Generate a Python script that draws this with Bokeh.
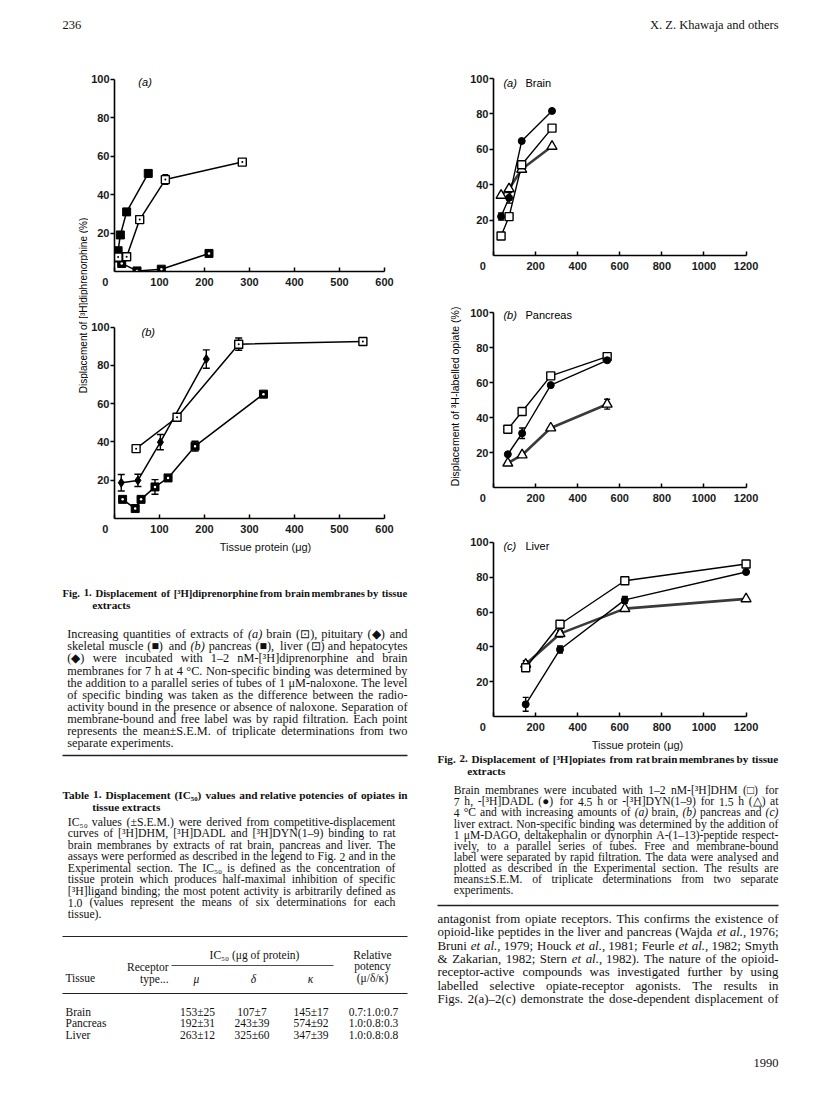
import math
from bokeh.plotting import figure
from bokeh.models import Range1d, Label, Whisker, ColumnDataSource, FixedTicker
from bokeh.layouts import column, row
from bokeh.embed import file_html
from bokeh.resources import INLINE
from bokeh.core.properties import value

SANS = "Liberation Sans"
SERIF = "Liberation Serif"

# ---------------- data ----------------
# Fig. 1(a): brain, pituitary, skeletal muscle
f1a_brain_x = [8, 27, 56, 113, 284]
f1a_brain_y = [7.5, 7.7, 27, 47.8, 56.9]
f1a_brain_err = [0, 0, 0, 2.5, 0]
f1a_pit_x = [8, 13, 27, 75]
f1a_pit_y = [10.8, 19, 31, 51]
f1a_musc_x = [8, 16, 50, 104, 210]
f1a_musc_y = [7.0, 4.2, 0.3, 1.2, 9.4]

# Fig. 1(b): liver, hepatocytes, pancreas
f1b_liver_x = [48, 139, 276, 552]
f1b_liver_y = [36.5, 52.9, 91.1, 92.5]
f1b_liver_err = [0, 0, 3.2, 0]
f1b_hep_x = [15, 52, 102, 204]
f1b_hep_y = [18.7, 19.9, 39.9, 83.3]
f1b_hep_err = [4.3, 3.2, 4.0, 4.8]
f1b_panc_x = [18, 46, 59, 90, 119, 179, 331]
f1b_panc_y = [10, 5.2, 10, 16.5, 21.2, 37.8, 65]
f1b_panc_err = [0, 0, 0, 3.8, 0, 2.6, 0]

# Fig. 2: DHM (square), DADL (circle), DYN(1-9) (triangle)
f2a_x = [36, 74, 134, 278]
f2a_dhm = [11, 22, 51.3, 72]
f2a_dadl = [22, 32.6, 64.7, 81.7]
f2a_dadl_err = [2, 3, 0, 0]
f2a_dyn = [34, 37.7, 48.7, 61.7]
f2a_dyn_err = [0, 0, 0, 0]

f2b_x = [68, 136, 272, 540]
f2b_dhm = [33.3, 43.4, 63.8, 74.8]
f2b_dadl = [19, 31, 58.5, 72.7]
f2b_dadl_err = [0, 3, 0, 0]
f2b_dyn = [13.9, 18.6, 34, 47.6]
f2b_dyn_err = [0, 0, 0, 2.8]

f2c_x = [153, 316, 624, 1200]
f2c_dhm = [28, 53, 78, 87.6]
f2c_dadl = [7, 38.5, 67, 83]
f2c_dadl_err = [4, 2, 2, 0]
f2c_dyn = [30, 47.6, 62, 67.6]
f2c_dyn_err = [2, 2, 0, 0]

y_ticks = [20, 40, 60, 80, 100]
x_ticks_f1 = [0, 100, 200, 300, 400, 500, 600]
x_ticks_f2 = [0, 200, 400, 600, 800, 1000, 1200]

# ---------------- texts ----------------
header_left = "236"
header_right = "X. Z. Khawaja and others"
f1_ylabel = "Displacement of [³H]diphrenorphine (%)"
f2_ylabel = "Displacement of ³H-labelled opiate (%)"
x_label = "Tissue protein (μg)"
f1_title = ["Fig. 1. Displacement of [³H]diprenorphine from brain membranes by tissue", "extracts"]
f1_cap = [
    "Increasing quantities of extracts of ~(a) brain (⊡), pituitary (◆) and",
    "skeletal muscle (■) and ~(b) pancreas (■), liver (⊡) and hepatocytes",
    "(◆) were incubated with 1–2 nM-[³H]diprenorphine and brain",
    "membranes for 7 h at 4 °C. Non-specific binding was determined by",
    "the addition to a parallel series of tubes of 1 μM-naloxone. The level",
    "of specific binding was taken as the difference between the radio-",
    "activity bound in the presence or absence of naloxone. Separation of",
    "membrane-bound and free label was by rapid filtration. Each point",
    "represents the mean±S.E.M. of triplicate determinations from two",
    "separate experiments.",
]
t1_title = ["Table 1. Displacement (IC₅₀) values and relative potencies of opiates in", "tissue extracts"]
t1_par = [
    "IC₅₀ values (±S.E.M.) were derived from competitive-displacement",
    "curves of [³H]DHM, [³H]DADL and [³H]DYN(1–9) binding to rat",
    "brain membranes by extracts of rat brain, pancreas and liver. The",
    "assays were performed as described in the legend to Fig. 2 and in the",
    "Experimental section. The IC₅₀ is defined as the concentration of",
    "tissue protein which produces half-maximal inhibition of specific",
    "[³H]ligand binding; the most potent activity is arbitrarily defined as",
    "1.0 (values represent the means of six determinations for each",
    "tissue).",
]
tbl_tissue = ["Brain", "Pancreas", "Liver"]
tbl_mu = ["153±25", "192±31", "263±12"]
tbl_delta = ["107±7", "243±39", "325±60"]
tbl_kappa = ["145±17", "574±92", "347±39"]
tbl_pot = ["0.7:1.0:0.7", "1.0:0.8:0.3", "1.0:0.8:0.8"]

f2_title = ["Fig. 2. Displacement of [³H]opiates from rat brain membranes by tissue", "extracts"]
f2_cap = [
    "Brain membranes were incubated with 1–2 nM-[³H]DHM (□) for",
    "7 h, -[³H]DADL (●) for 4.5 h or -[³H]DYN(1–9) for 1.5 h (△) at",
    "4 °C and with increasing amounts of ~(a) brain, ~(b) pancreas and ~(c)",
    "liver extract. Non-specific binding was determined by the addition of",
    "1 μM-DAGO, deltakephalin or dynorphin A-(1–13)-peptide respect-",
    "ively, to a parallel series of tubes. Free and membrane-bound",
    "label were separated by rapid filtration. The data were analysed and",
    "plotted as described in the Experimental section. The results are",
    "means±S.E.M. of triplicate determinations from two separate",
    "experiments.",
]
body = [
    "antagonist from opiate receptors. This confirms the existence of",
    "opioid-like peptides in the liver and pancreas (Wajda ~et ~al., 1976;",
    "Bruni ~et ~al., 1979; Houck ~et ~al., 1981; Feurle ~et ~al., 1982; Smyth",
    "& Zakarian, 1982; Stern ~et ~al., 1982). The nature of the opioid-",
    "receptor-active compounds was investigated further by using",
    "labelled selective opiate-receptor agonists. The results in",
    "Figs. 2(a)–2(c) demonstrate the dose-dependent displacement of",
]
footer = "1990"

# ---------------- text helpers ----------------
TW = {' ': 250, '!': 333, '"': 408, '%': 833, '&': 778, "'": 333, '(': 333, ')': 333, '*': 500,
      '+': 564, ',': 250, '-': 333, '.': 250, '/': 278, ':': 278, ';': 278, '=': 564, '?': 444,
      '[': 333, ']': 333, '–': 500, '±': 564, '°': 400, '³': 300, 'μ': 500, 'δ': 500, 'κ': 500,
      '₅': 320, '₀': 320, '⊡': 760, '◆': 760, '■': 760, '□': 760, '●': 760, '△': 760}
for c in '0123456789':
    TW[c] = 500
TW.update(zip('ABCDEFGHIJKLMNOPQRSTUVWXYZ',
              [722, 667, 667, 722, 611, 556, 722, 722, 333, 389, 722, 611, 889, 722, 722, 556, 722,
               667, 556, 611, 722, 722, 944, 722, 722, 611]))
TW.update(zip('abcdefghijklmnopqrstuvwxyz',
              [444, 500, 444, 500, 444, 333, 500, 500, 278, 278, 500, 278, 778, 500, 500, 500, 500,
               333, 389, 278, 500, 500, 722, 500, 500, 444]))

BASE = 0.02   # baseline offset (fraction of font size) relative to the nominal line position


class Writer:
    def __init__(self, p):
        self.p = p
        self.items = {}

    def add(self, x, y, s, size, style="normal", align="left", font=SERIF):
        key = (round(size, 2), style, align, font)
        xs, ys, ts = self.items.setdefault(key, ([], [], []))
        xs.append(x)
        ys.append(y + BASE * size)
        ts.append(s)

    def flush(self):
        for (size, style, align, font), (xs, ys, ts) in self.items.items():
            self.p.text(x=xs, y=ys, text=ts, text_font=value(font), text_font_size=f"{size}px",
                        text_font_style=style, text_align=align, text_baseline="alphabetic",
                        text_color="#111111")


def em(tok, factor):
    return sum(TW.get(c, 500) for c in tok.lstrip("~")) / 1000.0 * factor


def paragraph(w, lines, x0, x1, y0, dy, size=None, style="normal", last_ragged=True,
              factor=1.0, maxsize=13.0):
    toks = [l.split(" ") for l in lines]
    if size is None:
        cands = []
        for i, ws in enumerate(toks):
            if (last_ragged and i == len(toks) - 1) or len(ws) < 2:
                continue
            nat = sum(em(t, factor) for t in ws) + 0.25 * factor * (len(ws) - 1)
            cands.append((x1 - x0) / nat)
        size = min(cands + [maxsize]) * 0.99
    for i, ws in enumerate(toks):
        y = y0 + i * dy
        widths = [em(t, factor) * size for t in ws]
        just = not (last_ragged and i == len(toks) - 1) and len(ws) > 1
        gap = (x1 - x0 - sum(widths)) / (len(ws) - 1) if just else 0.25 * size * factor
        x = x0
        for t, wd in zip(ws, widths):
            st = style
            if t.startswith("~"):
                t = t[1:]
                st = "italic" if style == "normal" else "bold italic"
            w.add(x, y, t, size, st)
            x += wd + gap
    return size


def text_fig(X0, Y0, X1, Y1):
    p = figure(width=X1 - X0, height=Y1 - Y0, x_range=Range1d(X0, X1), y_range=Range1d(Y1, Y0),
               min_border=0, toolbar_location=None, output_backend="svg",
               x_axis_type=None, y_axis_type=None)
    p.outline_line_color = None
    p.grid.visible = False
    p.background_fill_color = "white"
    p.border_fill_color = "white"
    return p


YEND = 104


def make_plot(box, px0, pxb, xbound, xend, py100, py0, xticks, zero_pad):
    X0, Y0, X1, Y1 = box
    W, H = X1 - X0, Y1 - Y0
    sx = (pxb - px0) / xbound
    sy = (py0 - py100) / 100.0
    left = round(px0 - X0)
    fw = round(xend * sx)
    top = round(py100 - (YEND - 100) * sy - Y0)
    bottom = round(Y1 - py0)
    p = figure(width=W, height=H, x_range=Range1d(0, xend), y_range=Range1d(0, YEND),
               min_border_left=left, min_border_right=W - left - fw,
               min_border_top=top, min_border_bottom=bottom,
               toolbar_location=None, output_backend="svg")
    p.outline_line_color = None
    p.grid.visible = False
    p.background_fill_color = "white"
    p.border_fill_color = "white"
    p.xaxis.ticker = FixedTicker(ticks=xticks, minor_ticks=[])
    p.yaxis.ticker = FixedTicker(ticks=y_ticks, minor_ticks=[])
    p.xaxis.bounds = (0, xbound)
    p.yaxis.bounds = (0, 100)
    p.xaxis.major_label_overrides = {0: "0" + "\u00a0" * zero_pad}
    for ax in (p.xaxis, p.yaxis):
        ax.axis_line_width = 1.6
        ax.axis_line_color = "black"
        ax.major_tick_line_width = 1.5
        ax.major_tick_line_color = "black"
        ax.major_label_text_font = SANS
        ax.major_label_text_font_size = "11px"
        ax.major_label_text_font_style = "bold"
        ax.major_label_text_color = "#1a1a1a"
    p.xaxis.major_tick_in = 4
    p.xaxis.major_tick_out = 0
    p.xaxis.major_label_standoff = 4
    p.yaxis.major_tick_in = 0
    p.yaxis.major_tick_out = 4
    p.yaxis.major_label_standoff = 1
    return p


def add_err(p, xs, ys, errs, head=7):
    sel = [(x, y, e) for x, y, e in zip(xs, ys, errs) if e > 0]
    if not sel:
        return
    src = ColumnDataSource(dict(x=[s[0] for s in sel], lo=[s[1] - s[2] for s in sel],
                                hi=[s[1] + s[2] for s in sel]))
    wk = Whisker(source=src, base="x", lower="lo", upper="hi", line_color="black", line_width=1.4)
    wk.upper_head.size = head
    wk.lower_head.size = head
    wk.upper_head.line_width = 1.4
    wk.lower_head.line_width = 1.4
    p.add_layout(wk)


def panel_label(p, x, y, tag, name=None, xname=None):
    p.add_layout(Label(x=x, y=y, text=tag, text_font=SANS, text_font_size="11px",
                       text_font_style="italic", text_baseline="middle", text_color="black"))
    if name:
        p.add_layout(Label(x=xname, y=y, text=name, text_font=SANS, text_font_size="11px",
                           text_baseline="middle", text_color="black"))


LW = 1.5

# ---------------- header ----------------
hdr = text_fig(0, 0, 816, 50)
wh = Writer(hdr)
wh.add(62, 24, header_left, 12.5)
wh.add(778, 24, header_right, 12.5, align="right")
wh.flush()

# ---------------- Fig. 1 ----------------
ylab = text_fig(0, 50, 88, 537)
ylab.text(x=[83], y=[305], text=[f1_ylabel], angle=math.pi / 2,
          text_font=value(SANS), text_font_size="10px", text_align="center",
          text_baseline="middle", text_color="black")

f1a = make_plot((88, 50, 424, 292), 114, 384, 600, 600, 79, 271, x_ticks_f1, 6)
f1a.line(f1a_brain_x, f1a_brain_y, line_color="black", line_width=LW)
f1a.line(f1a_pit_x, f1a_pit_y, line_color="black", line_width=LW)
f1a.line(f1a_musc_x, f1a_musc_y, line_color="black", line_width=LW)
add_err(f1a, f1a_brain_x, f1a_brain_y, f1a_brain_err, head=6)
f1a.scatter(f1a_pit_x, f1a_pit_y, marker="square", size=8, fill_color="black", line_color="black")
f1a.scatter(f1a_musc_x, f1a_musc_y, marker="square", size=8, fill_color="black", line_color="black")
f1a.scatter(f1a_musc_x, f1a_musc_y, marker="circle", size=2.5, fill_color="white", line_color=None)
f1a.scatter(f1a_brain_x, f1a_brain_y, marker="square_dot", size=8, fill_color="white",
            line_color="black", line_width=1.4)
panel_label(f1a, 53, 98.4, "(a)")

f1b = make_plot((88, 292, 424, 537), 114, 384, 600, 600, 327, 519.3, x_ticks_f1, 6)
f1b.line(f1b_liver_x, f1b_liver_y, line_color="black", line_width=LW)
f1b.line(f1b_hep_x, f1b_hep_y, line_color="black", line_width=LW)
f1b.line(f1b_panc_x, f1b_panc_y, line_color="black", line_width=LW)
add_err(f1b, f1b_liver_x, f1b_liver_y, f1b_liver_err)
add_err(f1b, f1b_hep_x, f1b_hep_y, f1b_hep_err)
add_err(f1b, f1b_panc_x, f1b_panc_y, f1b_panc_err)
f1b.scatter(f1b_panc_x, f1b_panc_y, marker="square", size=8, fill_color="black", line_color="black")
f1b.scatter(f1b_panc_x, f1b_panc_y, marker="circle", size=2.5, fill_color="white", line_color=None)
f1b.scatter(f1b_hep_x, f1b_hep_y, marker="diamond", size=9, fill_color="black", line_color="black")
f1b.scatter(f1b_liver_x, f1b_liver_y, marker="square_dot", size=8, fill_color="white",
            line_color="black", line_width=1.4)
panel_label(f1b, 60, 97.5, "(b)")


# ---------------- Fig. 2 ----------------
def fig2_series(p, xs, dhm, dadl, dadl_err, dyn, dyn_err):
    p.line(xs, dyn, line_color="#3a3a3a", line_width=2.6)
    p.line(xs, dhm, line_color="black", line_width=1.4)
    p.line(xs, dadl, line_color="black", line_width=1.4)
    add_err(p, xs, dadl, dadl_err, head=6)
    add_err(p, xs, dyn, dyn_err, head=6)
    p.scatter(xs, dyn, marker="triangle", size=10, fill_color="white", line_color="black",
              line_width=1.4)
    p.scatter(xs, dhm, marker="square", size=8, fill_color="white", line_color="black",
              line_width=1.4)
    p.scatter(xs, dadl, marker="circle", size=7, fill_color="black", line_color="black")


f2a = make_plot((424, 50, 816, 290), 493, 746, 1200, 1240, 78.3, 255, x_ticks_f2, 7)
fig2_series(f2a, f2a_x, f2a_dhm, f2a_dadl, f2a_dadl_err, f2a_dyn, f2a_dyn_err)
panel_label(f2a, 47, 97.5, "(a)", "Brain", 152)

f2b = make_plot((424, 290, 816, 525), 493, 746, 1200, 1240, 311.7, 486.7, x_ticks_f2, 7)
fig2_series(f2b, f2b_x, f2b_dhm, f2b_dadl, f2b_dadl_err, f2b_dyn, f2b_dyn_err)
panel_label(f2b, 47, 98.7, "(b)", "Pancreas", 152)
f2b.yaxis.axis_label = f2_ylabel
f2b.yaxis.axis_label_text_font = SANS
f2b.yaxis.axis_label_text_font_size = "10.5px"
f2b.yaxis.axis_label_text_font_style = "normal"
f2b.yaxis.axis_label_text_color = "black"
f2b.yaxis.axis_label_standoff = 6

f2c = make_plot((424, 525, 816, 735), 493, 746, 1200, 1240, 541.7, 716.7, x_ticks_f2, 7)
fig2_series(f2c, f2c_x, f2c_dhm, f2c_dadl, f2c_dadl_err, f2c_dyn, f2c_dyn_err)
panel_label(f2c, 47, 98.1, "(c)", "Liver", 152)

# ---------------- left text block ----------------
lt = text_fig(0, 537, 424, 1090)
wl = Writer(lt)
wl.add(265, 546, x_label, 11, align="center", font=SANS)
paragraph(wl, f1_title[:1], 62, 407, 592, 12, style="bold", last_ragged=False, factor=1.06)
wl.add(91.7, 604.5, f1_title[1], 11.3, "bold")
paragraph(wl, f1_cap, 66.7, 407, 633.5, 12.1)
lt.segment(x0=[62], y0=[755], x1=[407], y1=[755], line_color="#222222", line_width=1.3)
paragraph(wl, t1_title[:1], 62, 407, 794, 12, style="bold", last_ragged=False, factor=1.06)
wl.add(91.7, 806, t1_title[1], 11.3, "bold")
paragraph(wl, t1_par, 67.3, 395, 821.5, 11.5)
# table
lt.segment(x0=[62, 171, 62], y0=[936, 965, 993], x1=[407, 333, 407], y1=[936, 965, 993],
           line_color="#222222", line_width=[1.2, 0.8, 1.2])
TS = 11.5
wl.add(254, 954.5, "IC₅₀ (μg of protein)", TS, align="center")
wl.add(372, 954, "Relative", TS, align="center")
wl.add(168, 966, "Receptor", TS, align="right")
wl.add(372, 965.5, "potency", TS, align="center")
wl.add(65, 977.5, "Tissue", TS)
wl.add(168, 978, "type...", TS, align="right")
wl.add(196, 978.5, "μ", TS, "italic", align="center")
wl.add(253, 978.5, "δ", TS, "italic", align="center")
wl.add(310, 978.5, "κ", TS, "italic", align="center")
wl.add(372, 977.5, "(μ/δ/κ)", TS, align="center")
row_y = [1011, 1022.5, 1034]
for i in range(3):
    wl.add(65, row_y[i], tbl_tissue[i], TS)
    wl.add(197, row_y[i], tbl_mu[i], TS, align="center")
    wl.add(251.5, row_y[i], tbl_delta[i], TS, align="center")
    wl.add(310.5, row_y[i], tbl_kappa[i], TS, align="center")
    wl.add(373, row_y[i], tbl_pot[i], TS, align="center")
wl.flush()

# ---------------- right text block ----------------
rt = text_fig(424, 735, 816, 1090)
wr = Writer(rt)
wr.add(637, 744, x_label, 11, align="center", font=SANS)
paragraph(wr, f2_title[:1], 437, 778, 758, 12, style="bold", last_ragged=False, factor=1.06)
wr.add(466.7, 770, f2_title[1], 11.3, "bold")
paragraph(wr, f2_cap, 453.3, 778, 790, 11.1)
rt.segment(x0=[437], y0=[905], x1=[778], y1=[905], line_color="#222222", line_width=1.3)
paragraph(wr, body, 437, 778, 918, 13.4, last_ragged=False, maxsize=13.5)
wr.add(778, 1062, footer, 12.5, align="right")
wr.flush()

# ---------------- layout ----------------
left_top = row(ylab, column(f1a, f1b, spacing=0), spacing=0)
left = column(left_top, lt, spacing=0)
right = column(column(f2a, f2b, f2c, spacing=0), rt, spacing=0)
page = column(hdr, row(left, right, spacing=0), spacing=0)

open("out.html", "w").write(file_html(page, INLINE))
